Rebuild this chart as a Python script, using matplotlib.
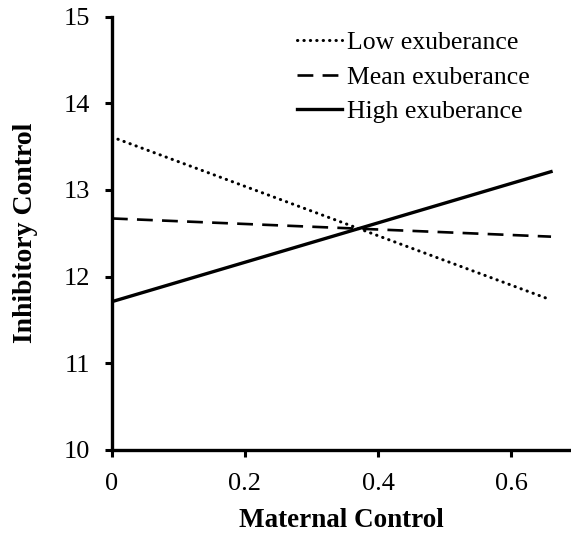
import matplotlib
matplotlib.use('Agg')
import matplotlib.pyplot as plt

plt.rcParams['font.family'] = ['Liberation Serif', 'DejaVu Serif']

# simple slopes: maternal control at start and end of range
x_vals = [0.0, 0.66]
low_exub = [13.61, 11.73]
mean_exub = [12.67, 12.46]
high_exub = [11.71, 13.21]

labels = ['Low exuberance', 'Mean exuberance', 'High exuberance']
x_ticks = [0, 0.2, 0.4, 0.6]
x_ticklabels = ['0', '0.2', '0.4', '0.6']
y_ticks = [10, 11, 12, 13, 14, 15]

fig = plt.figure(figsize=(5.71, 5.33), dpi=100)
ax = fig.add_axes([0.196, 0.156, 0.804, 0.813])

ax.plot(x_vals, low_exub, color='black', linestyle=(0, (0.1, 2.0)), linewidth=2.2,
        dash_capstyle='round', label=labels[0])
ax.plot(x_vals, mean_exub, color='black', linestyle=(0, (6, 3.5)), linewidth=1.9,
        label=labels[1])
ax.plot(x_vals, high_exub, color='black', linestyle='-', linewidth=2.4,
        label=labels[2])

ax.set_xlim(0, 0.69)
ax.set_ylim(10, 15)
ax.set_xticks(x_ticks)
ax.set_xticklabels(x_ticklabels)
ax.set_yticks(y_ticks)

for side in ['top', 'right']:
    ax.spines[side].set_visible(False)
for side in ['left', 'bottom']:
    ax.spines[side].set_linewidth(2.4)

ax.tick_params(axis='both', direction='out', length=5, width=2.2, labelsize=19)
ax.tick_params(axis='y', pad=11)
ax.tick_params(axis='x', pad=12)

ax.set_xlabel('Maternal Control', fontsize=19.5, fontweight='bold', labelpad=9)
ax.set_ylabel('Inhibitory Control', fontsize=20, fontweight='bold', labelpad=18)

leg = ax.legend(loc='upper right', bbox_to_anchor=(0.96, 1.02), frameon=False,
                fontsize=18.5, handlelength=1.75, handletextpad=0.2,
                labelspacing=0.45)

fig.savefig('out.png', dpi=100)
